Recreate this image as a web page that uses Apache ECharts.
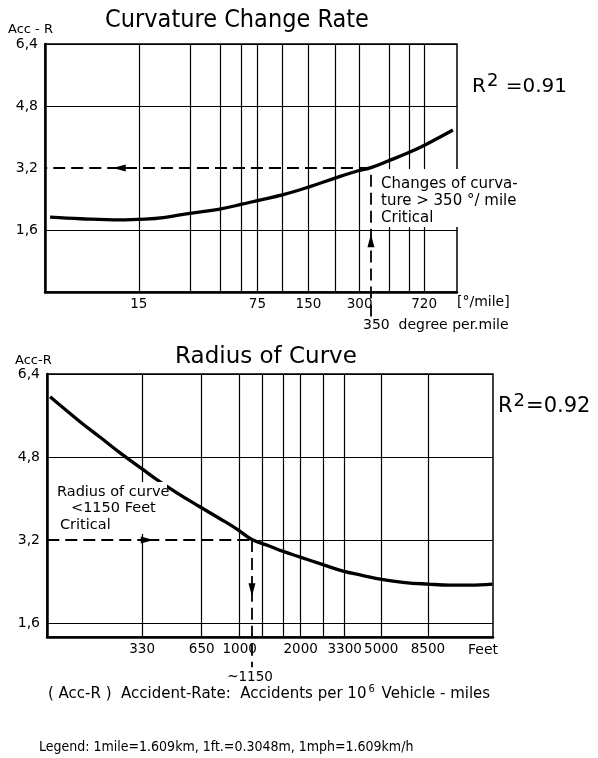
<!DOCTYPE html>
<html><head><meta charset="utf-8">
<script src="https://cdn.jsdelivr.net/npm/echarts@6/dist/echarts.min.js"></script>
<style>html,body{margin:0;padding:0;background:#fff}#c{width:598px;height:758px}</style>
</head><body><div id="c"></div>
<script>
// ---------- data: Curvature Change Rate ----------
const curvX = [4.5, 6.8, 11.6, 16.3, 20.9, 30, 45, 60, 75, 108, 153, 215, 294, 350, 441, 594, 748, 1065];
const curvY = [1.93, 1.89, 1.86, 1.88, 1.92, 2.03, 2.14, 2.26, 2.36, 2.52, 2.72, 2.94, 3.13, 3.21, 3.38, 3.61, 3.82, 4.18];
const curvGrid = [15, 30, 45, 60, 75, 105, 150, 215, 300, 450, 590, 720];
const curvTickLabels = ['15', '', '', '', '75', '', '150', '', '300', '', '', '720'];
const curvCritical = 350;
const curvArrowX = 11.5;     // position of the left-pointing arrow
const curvArrowY = 1.32;     // position of the up-pointing arrow

// ---------- data: Radius of Curve ----------
const radX = [116, 163, 205, 257, 330, 405, 508, 630, 800, 970, 1150, 1410, 1640, 1990, 2600, 3240, 4020, 5020, 6550, 8500, 10900, 13700, 17700];
const radY = [5.96, 5.48, 5.18, 4.88, 4.57, 4.32, 4.07, 3.85, 3.61, 3.41, 3.21, 3.08, 2.98, 2.87, 2.72, 2.60, 2.52, 2.44, 2.38, 2.35, 2.33, 2.33, 2.35];
const radGrid = [330, 650, 1000, 1300, 1650, 2000, 2600, 3300, 5000, 8500];
const radTickLabels = ['330', '650', '1000', '', '', '2000', '', '3300', '5000', '8500'];
const radCritical = 1150;
const radArrowX = 350;       // right-pointing arrow
const radArrowY = 2.24;      // down-pointing arrow

// ---------- shared y ticks ----------
const accTicks = [1.6, 3.2, 4.8, 6.4];
const accTickLabels = ['1,6', '3,2', '4,8', '6,4'];
const critAcc = 3.2;

const FONT = '"DejaVu Sans", sans-serif';
const FONT_C = '"DejaVu Sans Condensed", "DejaVu Sans", sans-serif';
const BLACK = '#000';

const curvXMin = 4.2, curvXMax = 1125;
const radXMin = 112, radXMax = 17800;

function logAxis(g, min, max, show) {
  return { type: 'log', logBase: 10, gridIndex: g, min: min, max: max, show: show,
    axisLine: { show: true, onZero: false, lineStyle: { color: BLACK, width: 2.5 } },
    axisTick: { show: false }, axisLabel: { show: false }, splitLine: { show: false },
    minorTick: { show: false }, minorSplitLine: { show: false } };
}
function valAxis(g, min, max, show) {
  return { type: 'value', gridIndex: g, min: min, max: max, show: show,
    axisLine: { show: true, onZero: false, lineStyle: { color: BLACK, width: 2.5 } },
    axisTick: { show: false }, axisLabel: { show: false }, splitLine: { show: false } };
}
function vGrid(vals, labels) {
  return vals.map((v, i) => ({
    xAxis: v,
    label: { show: !!labels[i], formatter: labels[i] || '', position: 'start', distance: 5 }
  }));
}
function hGrid(vals, labels, hiddenVal) {
  return vals.map((v, i) => ({
    yAxis: v,
    lineStyle: v === hiddenVal ? { color: 'rgba(0,0,0,0)' } : {},
    label: { show: true, formatter: labels[i], position: 'start', distance: 7, fontSize: 14, color: BLACK, opacity: 1 }
  }));
}
const DASH = { color: BLACK, width: 1.8, type: [12, 6] };
function seg(p1, p2, arrow, solid) {
  return [
    { coord: p1, symbol: 'none', lineStyle: solid ? { color: BLACK, width: 1.2, type: 'solid' } : DASH, label: { show: false } },
    { coord: p2, symbol: arrow ? 'triangle' : 'none', symbolSize: [7, 13], itemStyle: { color: BLACK } }
  ];
}
function markLineBase(data) {
  return {
    silent: true, animation: false, symbol: ['none', 'none'], precision: 4,
    lineStyle: { color: BLACK, width: 1.2, type: 'solid' },
    itemStyle: { color: BLACK },
    label: { show: false, color: BLACK, fontSize: 13.5, fontFamily: FONT },
    emphasis: { disabled: true },
    data: data
  };
}

const chart = echarts.init(document.getElementById('c'), null, { renderer: 'canvas' });

const option = {
  animation: false,
  backgroundColor: '#fff',
  grid: [
    { left: 45, top: 44, width: 412, height: 248, show: true, borderColor: BLACK, borderWidth: 1.5, outerBoundsMode: 'none' },
    { left: 45, top: 44, width: 412, height: 273, show: false, outerBoundsMode: 'none' },
    { left: 47, top: 374, width: 446, height: 263, show: true, borderColor: BLACK, borderWidth: 1.5, outerBoundsMode: 'none' },
    { left: 47, top: 374, width: 446, height: 294, show: false, outerBoundsMode: 'none' }
  ],
  xAxis: [
    logAxis(0, curvXMin, curvXMax, true),
    logAxis(1, curvXMin, curvXMax, false),
    logAxis(2, radXMin, radXMax, true),
    logAxis(3, radXMin, radXMax, false)
  ],
  yAxis: [
    valAxis(0, 0, 6.4, true),
    valAxis(1, -0.645, 6.4, false),
    valAxis(2, 1.33, 6.4, true),
    valAxis(3, 0.732, 6.4, false)
  ],
  series: [
    {
      type: 'line', xAxisIndex: 0, yAxisIndex: 0, clip: false, z: 4,
      data: curvX.map((x, i) => [x, curvY[i]]),
      smooth: 0.4, symbol: 'none', silent: true,
      lineStyle: { color: BLACK, width: 3.3 },
      markLine: markLineBase([].concat(
        vGrid(curvGrid, curvTickLabels),
        hGrid(accTicks, accTickLabels, critAcc),
        [seg([curvCritical, critAcc], [curvArrowX, critAcc], true)],
        [seg([curvArrowX, critAcc], [curvXMin * 1.003, critAcc], false)]
      ))
    },
    {
      type: 'line', xAxisIndex: 1, yAxisIndex: 1, clip: false, data: [], silent: true,
      markLine: markLineBase([
        seg([curvCritical, -0.63], [curvCritical, curvArrowY], true),
        seg([curvCritical, curvArrowY], [curvCritical, critAcc], false)
      ])
    },
    {
      type: 'line', xAxisIndex: 2, yAxisIndex: 2, clip: false, z: 4,
      data: radX.map((x, i) => [x, radY[i]]),
      smooth: 0.4, symbol: 'none', silent: true,
      lineStyle: { color: BLACK, width: 3.3 },
      markLine: markLineBase([].concat(
        vGrid(radGrid, radTickLabels),
        hGrid(accTicks, accTickLabels, critAcc),
        [seg([radXMin * 1.003, critAcc], [radArrowX, critAcc], true)],
        [seg([radArrowX, critAcc], [radCritical, critAcc], false)],
        [seg([radCritical, critAcc], [radXMax * 0.997, critAcc], false, true)]
      ))
    },
    {
      type: 'line', xAxisIndex: 3, yAxisIndex: 3, clip: false, data: [], silent: true,
      markLine: markLineBase([
        seg([radCritical, critAcc], [radCritical, radArrowY], true),
        seg([radCritical, radArrowY], [radCritical, 0.745], false)
      ])
    }
  ],
  graphic: [
    // top chart texts
    { type: 'text', x: 237, y: 20, z: 100, style: { text: 'Curvature Change Rate', fontSize: 25, fontFamily: FONT_C, fill: BLACK, align: 'center', verticalAlign: 'middle', textAlign: 'center', textVerticalAlign: 'middle' } },
    { type: 'text', x: 8, y: 30, z: 100, style: { text: 'Acc - R', fontSize: 13, fontFamily: FONT, fill: BLACK, align: 'left', verticalAlign: 'middle', textAlign: 'left', textVerticalAlign: 'middle' } },
    { type: 'text', x: 472, y: 87, z: 100, style: { text: '{a|R}{s|2}{a| =0.91}', align: 'left', verticalAlign: 'middle', textAlign: 'left', textVerticalAlign: 'middle',
        rich: { a: { fontSize: 20, fontFamily: FONT, fill: BLACK }, s: { fontSize: 18, fontFamily: FONT, fill: BLACK, padding: [0, 1, 12, 1] } } } },
    { type: 'text', x: 376, y: 169, z: 100, style: { text: 'Changes of curva-\nture > 350 °/ mile\nCritical', fontSize: 15, lineHeight: 17, fontFamily: FONT, fill: BLACK,
        align: 'left', verticalAlign: 'top', textAlign: 'left', textVerticalAlign: 'top', backgroundColor: '#fff', padding: [7, 6, 0, 5] } },
    { type: 'text', x: 457, y: 302, z: 100, style: { text: '[°/mile]', fontSize: 14, fontFamily: FONT, fill: BLACK, align: 'left', verticalAlign: 'middle', textAlign: 'left', textVerticalAlign: 'middle' } },
    { type: 'text', x: 363, y: 325, z: 100, style: { text: '350  degree per.mile', fontSize: 14, fontFamily: FONT, fill: BLACK, align: 'left', verticalAlign: 'middle', textAlign: 'left', textVerticalAlign: 'middle' } },
    // bottom chart texts
    { type: 'text', x: 266, y: 357, z: 100, style: { text: 'Radius of Curve', fontSize: 23, fontFamily: FONT, fill: BLACK, align: 'center', verticalAlign: 'middle', textAlign: 'center', textVerticalAlign: 'middle' } },
    { type: 'text', x: 15, y: 361, z: 100, style: { text: 'Acc-R', fontSize: 13, fontFamily: FONT, fill: BLACK, align: 'left', verticalAlign: 'middle', textAlign: 'left', textVerticalAlign: 'middle' } },
    { type: 'text', x: 498, y: 407, z: 100, style: { text: '{a|R}{s|2}{a|=0.92}', align: 'left', verticalAlign: 'middle', textAlign: 'left', textVerticalAlign: 'middle',
        rich: { a: { fontSize: 21, fontFamily: FONT, fill: BLACK }, s: { fontSize: 18, fontFamily: FONT, fill: BLACK, padding: [0, 1, 12, 1] } } } },
    { type: 'rect', z: 99, shape: { x: 52, y: 482, width: 115, height: 52 }, style: { fill: '#fff' } },
    { type: 'text', x: 57, y: 492, z: 100, style: { text: 'Radius of curve', fontSize: 14.5, fontFamily: FONT, fill: BLACK, align: 'left', verticalAlign: 'middle', textAlign: 'left', textVerticalAlign: 'middle' } },
    { type: 'text', x: 71, y: 508, z: 100, style: { text: '<1150 Feet', fontSize: 14.5, fontFamily: FONT, fill: BLACK, align: 'left', verticalAlign: 'middle', textAlign: 'left', textVerticalAlign: 'middle' } },
    { type: 'text', x: 60, y: 525, z: 100, style: { text: 'Critical', fontSize: 14.5, fontFamily: FONT, fill: BLACK, align: 'left', verticalAlign: 'middle', textAlign: 'left', textVerticalAlign: 'middle' } },
    { type: 'text', x: 483, y: 650, z: 100, style: { text: 'Feet', fontSize: 14, fontFamily: FONT, fill: BLACK, align: 'center', verticalAlign: 'middle', textAlign: 'center', textVerticalAlign: 'middle' } },
    { type: 'text', x: 250, y: 677, z: 100, style: { text: '~1150', fontSize: 13.5, fontFamily: FONT, fill: BLACK, align: 'center', verticalAlign: 'middle', textAlign: 'center', textVerticalAlign: 'middle' } },
    { type: 'text', x: 48, y: 694, z: 100, style: { text: '{a|( Acc-R )  Accident-Rate:  Accidents per 10}{s|6}{a| Vehicle - miles}', align: 'left', verticalAlign: 'middle', textAlign: 'left', textVerticalAlign: 'middle',
        rich: { a: { fontSize: 15, fontFamily: FONT, fill: BLACK }, s: { fontSize: 10, fontFamily: FONT, fill: BLACK, padding: [0, 2, 10, 2] } } } },
    { type: 'text', x: 39, y: 747, z: 100, style: { text: 'Legend: 1mile=1.609km, 1ft.=0.3048m, 1mph=1.609km/h', fontSize: 14, fontFamily: FONT_C, fill: BLACK, align: 'left', verticalAlign: 'middle', textAlign: 'left', textVerticalAlign: 'middle' } }
  ]
};
chart.setOption(option);
</script>
</body></html>
